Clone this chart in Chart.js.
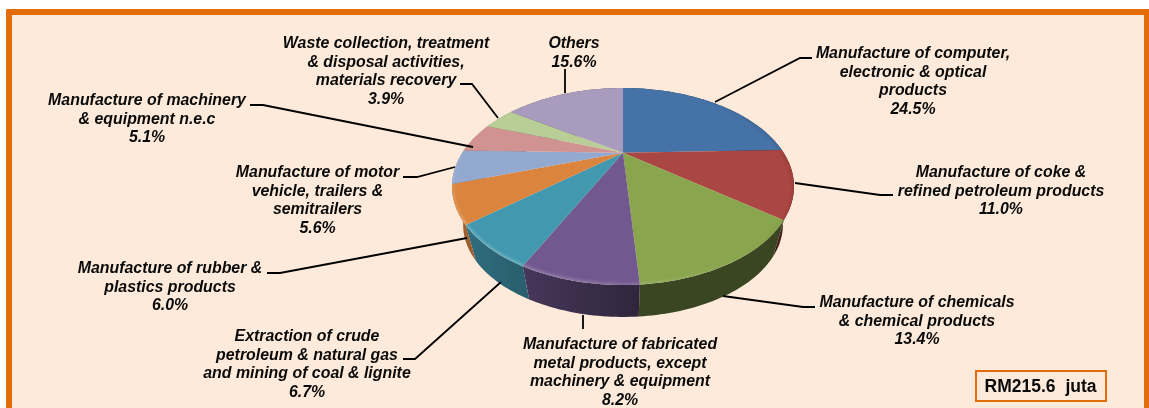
<!DOCTYPE html>
<html>
<head>
<meta charset="utf-8">
<title>RM215.6 juta</title>
<script src="https://cdn.jsdelivr.net/npm/chart.js@4"></script>
<style>
    html, body { margin: 0; padding: 0; background: #fff; overflow: hidden; }
    #frame {
        position: absolute; left: 6px; top: 9px; width: 1132px; height: 399px;
        background: #FDEADA; border: 6px solid #E36C0A; border-bottom: none;
        border-radius: 2px 2px 0 0;
    }
    #chart-wrapper { position: absolute; left: 0; top: 0; }
</style>
</head>
<body>
<div id="frame"></div>
<canvas id="chart-wrapper" width="1149" height="408"></canvas>
<script>
const categories = [
    ['Manufacture of computer,', 'electronic & optical', 'products'],
    ['Manufacture of coke &', 'refined petroleum products'],
    ['Manufacture of chemicals', '& chemical products'],
    ['Manufacture of fabricated', 'metal products, except', 'machinery & equipment'],
    ['Extraction of crude', 'petroleum & natural gas', 'and mining of coal & lignite'],
    ['Manufacture of rubber &', 'plastics products'],
    ['Manufacture of motor', 'vehicle, trailers &', 'semitrailers'],
    ['Manufacture of machinery', '& equipment n.e.c'],
    ['Waste collection, treatment', '& disposal activities,', 'materials recovery'],
    ['Others']
];
const shares = [24.5, 11.0, 13.4, 8.2, 6.7, 6.0, 5.6, 5.1, 3.9, 15.6];
const sliceColors = ['#4573A7', '#AA4643', '#89A54E', '#71588F', '#4198AF',
    '#DB843D', '#93A9CF', '#D19392', '#B9CD96', '#A99BBD'];
const totalLabel = 'RM215.6 juta';

// label block centre x and first line y, then the leader line
const labelPlaces = [
    { x: 913, y: 53.7, leader: [[812, 58], [800, 58], [715, 102]] },
    { x: 1001, y: 172.7, leader: [[893, 195], [880, 195], [795, 183]] },
    { x: 917, y: 302.7, leader: [[815, 307], [803, 307], [723, 296]] },
    { x: 620, y: 344.7, leader: [[583, 329], [583, 315]] },
    { x: 307, y: 336.7, leader: [[403, 359], [415, 359], [501, 282]] },
    { x: 170, y: 268.7, leader: [[267, 273], [280, 273], [467, 238]] },
    { x: 317.5, y: 172.7, leader: [[403, 177], [417, 177], [455, 167]] },
    { x: 147, y: 100.7, leader: [[250, 105], [263, 105], [473, 147]] },
    { x: 386, y: 43.7, leader: [[460, 84], [472, 84], [498, 118]] },
    { x: 574, y: 43.7, leader: [[565, 69], [565, 93]] }
];

// the pie lies in perspective: plan circle to screen
const tilt = { x: 623, y: 152.7, a: 160.6, b: 86.9, p: 0.343 };
const wall = { vanishY: 777, scale: 0.935 };

function project(angle, floor) {
    const u = Math.cos(angle), v = Math.sin(angle);
    const w = 1 - tilt.p * v;
    const x = tilt.x + tilt.a * u / w;
    const y = tilt.y + tilt.b * v / w;
    if (!floor) return [x, y];
    return [tilt.x + (x - tilt.x) * wall.scale, wall.vanishY + (y - wall.vanishY) * wall.scale];
}

function shade(hex, f) {
    const n = parseInt(hex.slice(1), 16);
    return 'rgb(' + [(n >> 16) & 255, (n >> 8) & 255, n & 255].map(c => Math.round(c * f)).join(',') + ')';
}

function wallFactor(x) {
    const t = Math.min(1, Math.max(0, (x - 470) / 170));
    return 0.72 - 0.3 * t;
}

function tracePath(ctx, start, end, floor) {
    const steps = Math.max(2, Math.ceil(Math.abs(end - start) / 0.02));
    for (let i = 0; i <= steps; i++) {
        const p = project(start + (end - start) * i / steps, floor);
        ctx.lineTo(p[0], p[1]);
    }
}

const tiltedPie = {
    id: 'tiltedPie',
    beforeDatasetsDraw: (chart) => {
        const { ctx } = chart;
        const arcs = chart.getDatasetMeta(0).data;

        // side wall, only the part that faces the viewer shows
        arcs.forEach((arc, i) => {
            const left = project(arc.endAngle)[0], right = project(arc.startAngle)[0];
            const grad = ctx.createLinearGradient(Math.min(left, right), 0, Math.max(left, right) + 1, 0);
            grad.addColorStop(0, shade(sliceColors[i], wallFactor(Math.min(left, right))));
            grad.addColorStop(1, shade(sliceColors[i], wallFactor(Math.max(left, right))));
            ctx.beginPath();
            tracePath(ctx, arc.startAngle, arc.endAngle, false);
            tracePath(ctx, arc.endAngle, arc.startAngle, true);
            ctx.closePath();
            ctx.fillStyle = grad;
            ctx.fill();
        });

        // top surface with a soft bevel on the rim
        arcs.forEach((arc, i) => {
            ctx.save();
            ctx.beginPath();
            ctx.moveTo(tilt.x, tilt.y);
            tracePath(ctx, arc.startAngle, arc.endAngle, false);
            ctx.closePath();
            ctx.fillStyle = sliceColors[i];
            ctx.fill();
            ctx.clip();
            ctx.filter = 'blur(1.5px)';
            ctx.lineWidth = 4;
            const step = 0.08;
            for (let t = arc.startAngle; t < arc.endAngle; t += step) {
                const u = Math.cos(t), v = Math.sin(t);
                const lit = Math.max(0, v) * (0.17 - 0.24 * u);
                const dark = Math.max(0, u - 0.6) * 0.3;
                if (lit <= 0.01 && dark <= 0.01) continue;
                ctx.strokeStyle = lit > dark
                    ? 'rgba(255,255,255,' + lit.toFixed(3) + ')'
                    : 'rgba(40,10,10,' + dark.toFixed(3) + ')';
                ctx.beginPath();
                tracePath(ctx, t, t + step, false);
                ctx.stroke();
            }
            ctx.restore();
        });
        return false;
    },
    afterDraw: (chart) => {
        const { ctx } = chart;
        ctx.save();

        ctx.strokeStyle = '#000';
        ctx.lineWidth = 1.8;
        labelPlaces.forEach((place) => {
            ctx.beginPath();
            place.leader.forEach((pt, i) => i ? ctx.lineTo(pt[0], pt[1]) : ctx.moveTo(pt[0], pt[1]));
            ctx.stroke();
        });

        ctx.fillStyle = '#0A0A0A';
        ctx.textAlign = 'center';
        ctx.textBaseline = 'middle';
        ctx.font = 'italic bold 15.9px "Liberation Sans"';
        labelPlaces.forEach((place, i) => {
            const lines = categories[i].concat(shares[i].toFixed(1) + '%');
            lines.forEach((line, n) => ctx.fillText(line, place.x, place.y + n * 18.6));
        });

        ctx.strokeStyle = '#E36C0A';
        ctx.lineWidth = 2;
        ctx.strokeRect(976, 371, 130, 30);
        ctx.font = 'bold 17.5px "Liberation Sans"';
        ctx.wordSpacing = '5px';
        ctx.fillText(totalLabel, 1040.5, 387);
        ctx.restore();
    }
};

const myChart = new Chart(document.getElementById('chart-wrapper'), {
    type: 'pie',
    data: {
        labels: categories.map(c => c.join(' ')),
        datasets: [{
            data: shares,
            backgroundColor: sliceColors,
            borderWidth: 0,
        }],
    },
    options: {
        responsive: false,
        animation: false,
        devicePixelRatio: 1,
        plugins: {
            legend: { display: false },
            tooltip: { enabled: false },
        },
    },
    plugins: [tiltedPie],
});
</script>
</body>
</html>
